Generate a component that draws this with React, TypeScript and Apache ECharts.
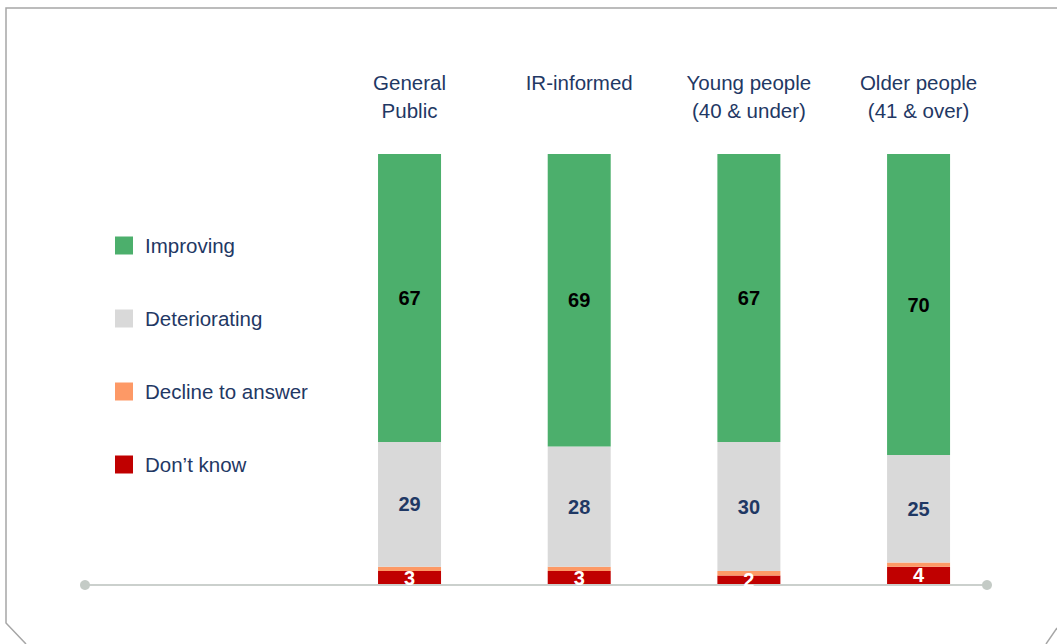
import React, { useEffect, useRef } from "react";
import * as echarts from "echarts";

const categories = ["General\nPublic", "IR-informed", "Young people\n(40 & under)", "Older people\n(41 & over)"];
const dontKnow = [3, 3, 2, 4];
const declineToAnswer = [1, 1, 1, 1];
const deteriorating = [29, 28, 30, 25];
const improving = [67, 69, 67, 70];

const NAVY = "#1f3864";
const FONT = "Liberation Sans, Arial, sans-serif";

export default function App() {
  const ref = useRef<HTMLDivElement>(null);
  useEffect(() => {
    document.body.style.margin = "0";
    const chart = echarts.init(ref.current!, null, { renderer: "svg" });
    const lbl = (color: string, show = true) => ({
      show,
      position: "inside",
      color,
      fontWeight: "bold",
      fontSize: 20,
      fontFamily: FONT,
    });
    chart.setOption({
      animation: false,
      backgroundColor: "#ffffff",
      textStyle: { fontFamily: FONT },
      grid: { left: 324.7, right: 53.6, top: 154, bottom: 60 },
      legend: {
        orient: "vertical",
        left: 115,
        top: 235,
        padding: 0,
        icon: "rect",
        itemWidth: 18,
        itemHeight: 18,
        itemGap: 52,
        textStyle: { color: NAVY, fontSize: 20.5, fontFamily: FONT, padding: [0, 0, 0, 7] },
        data: ["Improving", "Deteriorating", "Decline to answer", "Don\u2019t know"],
      },
      xAxis: {
        type: "category",
        position: "top",
        data: categories,
        axisLine: { show: false },
        axisTick: { show: false },
        axisLabel: {
          color: NAVY,
          fontSize: 20.5,
          lineHeight: 28,
          fontFamily: FONT,
          verticalAlign: "top",
          margin: 86,
          interval: 0,
        },
      },
      yAxis: { type: "value", min: 0, max: 100, show: false, splitLine: { show: false } },
      series: [
        {
          name: "Don\u2019t know",
          type: "bar",
          stack: "s",
          barWidth: 63,
          data: dontKnow,
          itemStyle: { color: "#c00000" },
          label: lbl("#ffffff"),
        },
        {
          name: "Decline to answer",
          type: "bar",
          stack: "s",
          barWidth: 63,
          data: declineToAnswer,
          itemStyle: { color: "#fd9966" },
          label: { show: false },
        },
        {
          name: "Deteriorating",
          type: "bar",
          stack: "s",
          barWidth: 63,
          data: deteriorating,
          itemStyle: { color: "#d9d9d9" },
          label: lbl(NAVY),
        },
        {
          name: "Improving",
          type: "bar",
          stack: "s",
          barWidth: 63,
          data: improving,
          itemStyle: { color: "#4caf6c" },
          label: lbl("#000000"),
        },
      ],
      graphic: [
        {
          type: "polyline",
          silent: true,
          shape: { points: [[26, 644], [6, 623], [6, 8], [1057, 8]] },
          style: { stroke: "#a6a6a6", lineWidth: 1.5, fill: "none" },
        },
        {
          type: "line",
          silent: true,
          shape: { x1: 1057, y1: 628, x2: 1046, y2: 644 },
          style: { stroke: "#a6a6a6", lineWidth: 1.5 },
        },
        {
          type: "line",
          silent: true,
          shape: { x1: 85, y1: 585, x2: 987, y2: 585 },
          style: { stroke: "#cbd0cd", lineWidth: 2 },
        },
        {
          type: "circle",
          silent: true,
          shape: { cx: 85, cy: 585, r: 5 },
          style: { fill: "#c4cbc6" },
        },
        {
          type: "circle",
          silent: true,
          shape: { cx: 987, cy: 585, r: 5 },
          style: { fill: "#c4cbc6" },
        },
      ],
    });
    return () => chart.dispose();
  }, []);
  return (
    <div
      ref={ref}
      style={{ position: "absolute", left: 0, top: 0, width: 1057, height: 644 }}
    />
  );
}
